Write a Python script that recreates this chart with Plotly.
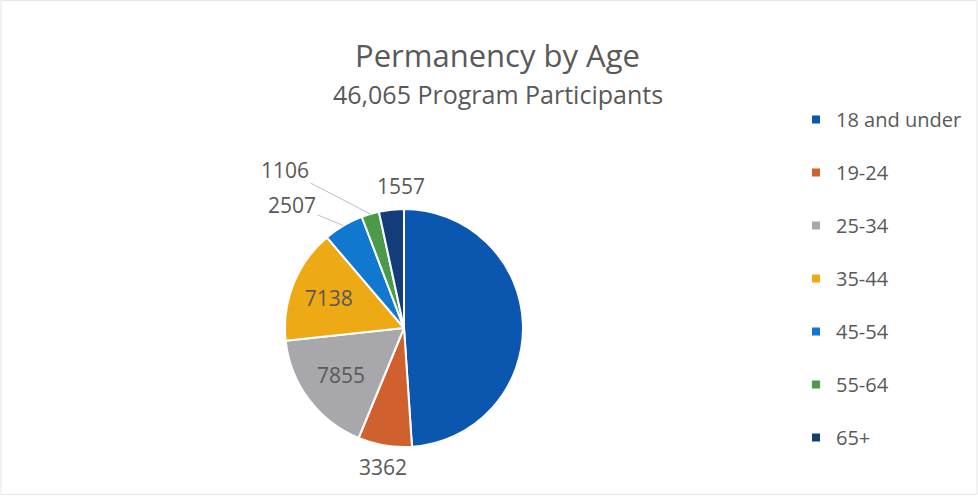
import math
import plotly.graph_objects as go

categories = ["18 and under", "19-24", "25-34", "35-44", "45-54", "55-64", "65+"]
values = [22540, 3362, 7855, 7138, 2507, 1106, 1557]
colors = ["#0B57B0", "#D0602E", "#A8A8AC", "#EDAA14", "#1178D0", "#4A9A4A", "#123D78"]
inside_labels = [False, False, True, True, False, False, False]
title_text = "Permanency by Age"
subtitle_text = "46,065 Program Participants"

FONT = "Open Sans"
GREY = "#595959"
W, H = 978, 496
CX, CY, R = 404, 328, 119  # pie centre / radius in pixels

fig = go.Figure()
fig.add_trace(go.Pie(
    labels=categories, values=values, sort=False, direction="clockwise", rotation=0,
    marker=dict(colors=colors, line=dict(color="white", width=2)),
    text=[str(v) if ins else "" for v, ins in zip(values, inside_labels)],
    textinfo="text", textposition=["inside" if ins else "none" for ins in inside_labels],
    textfont=dict(family=FONT, size=21, color=GREY),
    insidetextorientation="horizontal",
    showlegend=False, hoverinfo="label+value+percent",
    domain=dict(x=[(CX - R) / W, (CX + R) / W], y=[(H - CY - R) / H, (H - CY + R) / H]),
))

# outside labels with leader lines: placed relative to each slice's outer mid-point
offsets = {1: (-2, 22, False), 4: (-51, -21, True), 5: (-85, -44, True), 6: (10, -24, False)}
total = sum(values)
cum = 0
for i, v in enumerate(values):
    mid = (cum + v / 2) / total * 2 * math.pi
    cum += v
    if i not in offsets:
        continue
    ex = CX + R * math.sin(mid)
    ey = CY - R * math.cos(mid)
    ax, ay, line = offsets[i]
    fig.add_annotation(
        x=ex / W, y=1 - ey / H, xref="paper", yref="paper",
        text=str(v), showarrow=True, ax=ax, ay=ay, arrowhead=0, arrowwidth=1,
        arrowcolor="#BFBFBF" if line else "rgba(0,0,0,0)", standoff=0,
        font=dict(family=FONT, size=21, color=GREY),
    )

for i, (c, col) in enumerate(zip(categories, colors)):
    fig.add_trace(go.Scatter(
        x=[None], y=[None], mode="markers", name=c, legendgroup=f"g{i}",
        marker=dict(symbol="square", size=8, color=col),
        showlegend=True, hoverinfo="skip",
    ))

fig.add_annotation(text=title_text, x=498 / W, y=1 - 55 / H, xref="paper", yref="paper",
                   xanchor="center", yanchor="middle",
                   showarrow=False, font=dict(family=FONT, size=31, color=GREY))
fig.add_annotation(text=subtitle_text, x=498 / W, y=1 - 94 / H, xref="paper", yref="paper",
                   xanchor="center", yanchor="middle",
                   showarrow=False, font=dict(family=FONT, size=25, color=GREY))

fig.update_layout(
    width=W, height=H, margin=dict(l=0, r=0, t=0, b=0),
    paper_bgcolor="white", plot_bgcolor="white",
    xaxis=dict(visible=False), yaxis=dict(visible=False),
    legend=dict(x=796 / W, xanchor="left", y=1 - 100 / H, yanchor="top",
                font=dict(family=FONT, size=20, color=GREY),
                tracegroupgap=24, itemwidth=30, traceorder="grouped",
                bgcolor="rgba(0,0,0,0)"),
    shapes=[dict(type="rect", xref="paper", yref="paper", x0=0.001, y0=0.003, x1=0.999, y1=0.999,
                 line=dict(color="#E6E6E6", width=1))],
)

fig.write_html("out.html", config={"displayModeBar": False},
               post_script="document.body.style.margin='0';document.body.style.overflow='hidden';")
